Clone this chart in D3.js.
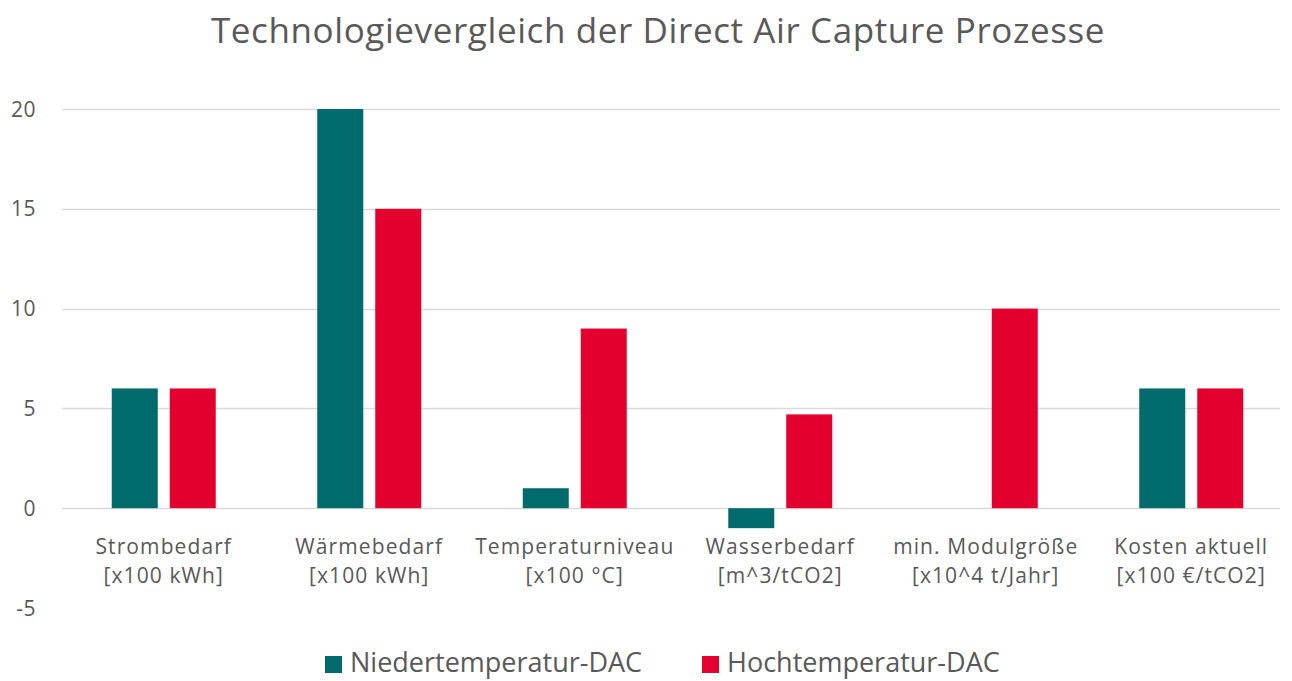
<!DOCTYPE html>
<html><head><meta charset="utf-8">
<script src="https://cdn.jsdelivr.net/npm/d3@7"></script>
<style>body{margin:0;background:#fff}svg{display:block}</style>
</head><body>
<svg id="c" width="1292" height="681"></svg>
<script>
const categories = [
  ["Strombedarf","[x100 kWh]"],
  ["Wärmebedarf","[x100 kWh]"],
  ["Temperaturniveau","[x100 °C]"],
  ["Wasserbedarf","[m^3/tCO2]"],
  ["min. Modulgröße","[x10^4 t/Jahr]"],
  ["Kosten aktuell","[x100 €/tCO2]"]
];
const seriesNames = ["Niedertemperatur-DAC","Hochtemperatur-DAC"];
const niederValues = [6, 20, 1, -1, 0, 6];
const hochValues = [6, 15, 9, 4.7, 10, 6];
const yTicks = [-5, 0, 5, 10, 15, 20];
const colors = ["#006A6C", "#E3002F"];

const svg = d3.select("#c");
const font = "'Open Sans', 'Noto Sans', sans-serif";
const textColor = "#595959";

const y = d3.scaleLinear().domain([-5, 20]).range([608, 109]);
const x0 = d3.scaleBand().domain(d3.range(categories.length)).range([61, 1294]).paddingInner(0).paddingOuter(0);
const groupW = 104;
const x1 = d3.scaleBand().domain([0,1]).range([0, groupW]).paddingInner(12/58);

// gridlines
svg.append("g").selectAll("line").data(yTicks.filter(t => t > -5)).join("line")
  .attr("x1", 62).attr("x2", 1280)
  .attr("y1", d => Math.round(y(d)) + 0.5).attr("y2", d => Math.round(y(d)) + 0.5)
  .attr("stroke", "#D9D9D9").attr("stroke-width", 1.5);

// y labels
svg.append("g").selectAll("text").data(yTicks).join("text")
  .attr("x", 36).attr("y", d => y(d) + 7.5)
  .attr("text-anchor", "end").attr("font-family", font).attr("font-size", 21)
  .attr("letter-spacing", 0.5)
  .attr("fill", textColor).text(d => d);

const data = categories.map((c, i) => ({i, vals: [niederValues[i], hochValues[i]]}));
const g = svg.append("g").selectAll("g").data(data).join("g")
  .attr("transform", d => `translate(${x0(d.i) + (x0.bandwidth() - groupW) / 2},0)`);
g.selectAll("rect").data(d => d.vals.map((v, s) => ({v, s})).filter(e => e.v !== 0)).join("rect")
  .attr("x", d => x1(d.s)).attr("width", x1.bandwidth())
  .attr("y", d => y(Math.max(0, d.v))).attr("height", d => Math.abs(y(d.v) - y(0)))
  .attr("fill", d => colors[d.s]);

// category labels
const cl = svg.append("g").selectAll("text").data(categories).join("text")
  .attr("text-anchor", "middle").attr("font-family", font).attr("font-size", 21)
  .attr("letter-spacing", 1.1)
  .attr("fill", textColor);
cl.each(function(d, i) {
  const t = d3.select(this);
  const cx = x0(i) + x0.bandwidth() / 2;
  t.append("tspan").attr("x", cx).attr("y", 554).text(d[0]);
  t.append("tspan").attr("x", cx).attr("y", 583).text(d[1]);
});

// title
svg.append("text").attr("x", 658).attr("y", 43).attr("text-anchor", "middle")
  .attr("font-family", font).attr("font-size", 35).attr("fill", textColor)
  .attr("letter-spacing", 0.6)
  .text("Technologievergleich der Direct Air Capture Prozesse");

// legend
const legendItems = [{x: 325, s: 0}, {x: 702, s: 1}];
const lg = svg.append("g").selectAll("g").data(legendItems).join("g");
lg.append("rect").attr("x", d => d.x).attr("y", 656).attr("width", 17).attr("height", 17)
  .attr("fill", d => colors[d.s]);
lg.append("text").attr("x", d => d.x + 25).attr("y", 672)
  .attr("font-family", font).attr("font-size", 27).attr("fill", textColor)
  .text(d => seriesNames[d.s]);
</script>
</body></html>
